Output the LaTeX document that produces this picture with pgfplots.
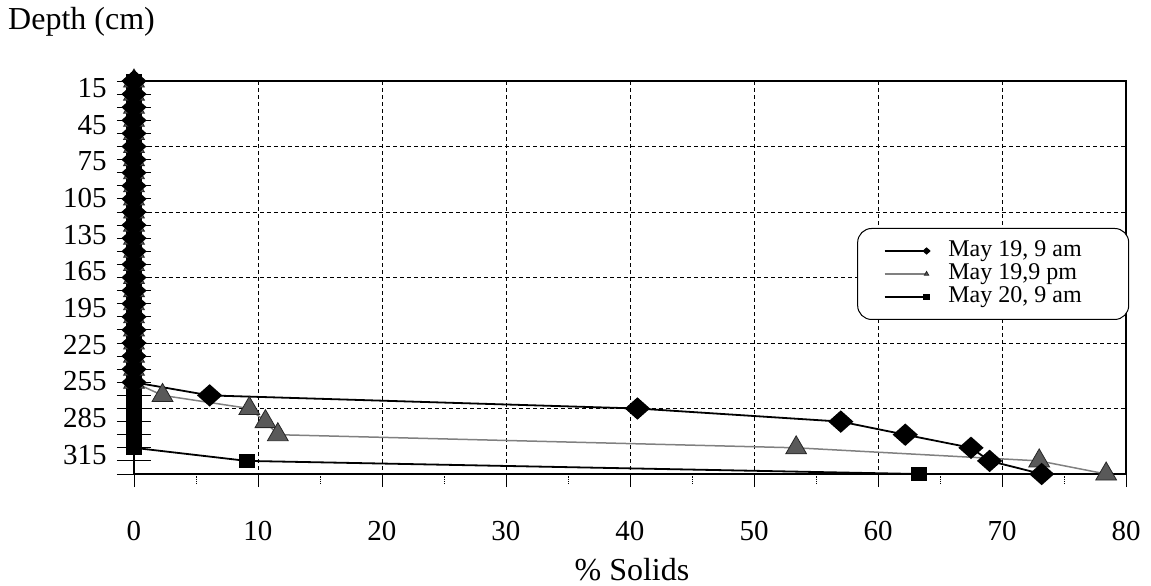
\documentclass[border=0pt]{standalone}
\usepackage{pgfplots}
\pgfplotsset{compat=1.18}
\usepackage{fontspec}
\setmainfont{Liberation Serif}

\begin{document}
\begin{tikzpicture}
\useasboundingbox (-134pt,-112pt) rectangle (1017pt,474pt);
\begin{axis}[
  at={(0pt,0pt)}, anchor=south west,
  scale only axis, width=992pt, height=393pt,
  xmin=0, xmax=80, ymin=15, ymax=315, y dir=reverse,
  /pgf/number format/assume math mode=true,
  xtick={0,10,...,80}, minor xtick={5,15,...,75},
  ytick={15,25,...,315}, yticklabels={},
  minor ytick={65,115,165,215,265},
  extra y ticks={20.3,48.3,76.3,104.3,132.3,160.3,188.3,216.3,244.3,272.3,300.3},
  extra y tick labels={15,45,75,105,135,165,195,225,255,285,315},
  extra y tick style={grid=none, tick style={draw=none}},
  xmajorgrids, yminorgrids,
  major grid style={black, line width=0.9pt, dash pattern=on 4pt off 3pt},
  minor grid style={black, line width=0.9pt, dash pattern=on 4pt off 3pt},
  axis line style={black, line width=1.2pt},
  tick style={black, line width=0.9pt},
  xtick pos=bottom, ytick pos=left,
  xtick align=outside, ytick align=center,
  xtick style={/pgfplots/major tick length=13pt},
  ytick style={/pgfplots/major tick length=34pt},
  minor x tick style={densely dotted, /pgfplots/minor tick length=10pt},
  minor y tick style={draw=none},
  xticklabel style={font=\fontsize{29}{30}\selectfont, anchor=center, yshift=-53pt},
  yticklabel style={font=\fontsize{29}{30}\selectfont, inner sep=0pt, anchor=east, xshift=-25pt},
  xlabel={\% Solids},
  xlabel style={at={(axis description cs:0.502,0)}, anchor=center, yshift=-96pt, font=\fontsize{32}{34}\selectfont},
  ylabel={Depth (cm)},
  ylabel style={rotate=-90, at={(axis description cs:-0.127,1.150)}, anchor=west, inner sep=0pt, font=\fontsize{32}{34}\selectfont},
  reverse legend,
  legend style={at={(axis description cs:0.729,0.626)}, anchor=north west,
    draw=black, line width=1pt, rounded corners=14pt, inner xsep=26pt, inner ysep=11pt,
    font=\fontsize{24}{25}\selectfont,
    nodes={inner sep=1pt, text height=16pt, text depth=5pt},
    /tikz/every odd column/.append style={column sep=18pt}},
  legend cell align=left,
  legend image code/.code={\draw[#1, mark repeat=2, mark phase=2, mark size=2.5pt] plot coordinates {(0pt,0pt) (42pt,0pt)};},
]
% May 20, 9 am (squares)
\addplot[black, line width=1.8pt, mark=square*, mark size=7pt, mark options={solid, yscale=0.85, fill=black}]
coordinates {
(0,15)(0,25)(0,35)(0,45)(0,55)(0,65)(0,75)(0,85)(0,95)(0,105)(0,115)(0,125)
(0,135)(0,145)(0,155)(0,165)(0,175)(0,185)(0,195)(0,205)(0,215)(0,225)(0,235)
(0,245)(0,255)(0,265)(0,275)(0,285)(0,295)(9.1,305)(63.3,315)
};
\addlegendentry{May 20, 9 am\hspace*{20pt}\mbox{}}
% May 19, 9 pm (triangles)
\addplot[black!50, line width=1.5pt, mark=triangle*, mark size=12pt, mark options={solid, fill=black!65, draw=black!85, line width=0.8pt}]
coordinates {
(0,15)(0,25)(0,35)(0,45)(0,55)(0,65)(0,75)(0,85)(0,95)(0,105)(0,115)(0,125)
(0,135)(0,145)(0,155)(0,165)(0,175)(0,185)(0,195)(0,205)(0,215)(0,225)(0,235)
(0,245)(2.3,255)(9.3,265)(10.6,275)(11.6,285)(53.4,295)(73,305)(78.4,315)
};
\addlegendentry{May 19,9 pm\hspace*{20pt}\mbox{}}
% May 19, 9 am (diamonds)
\addplot[black, line width=1.8pt, mark=diamond*, mark size=10pt, mark options={solid, xscale=1.5, fill=black}]
coordinates {
(0,15)(0,25)(0,35)(0,45)(0,55)(0,65)(0,75)(0,85)(0,95)(0,105)(0,115)(0,125)
(0,135)(0,145)(0,155)(0,165)(0,175)(0,185)(0,195)(0,205)(0,215)(0,225)(0,235)
(0,245)(6.1,255)(40.6,265)(57,275)(62.2,285)(67.5,295)(69,305)(73.2,315)
};
\addlegendentry{May 19, 9 am\hspace*{20pt}\mbox{}}
\end{axis}
\end{tikzpicture}
\end{document}
